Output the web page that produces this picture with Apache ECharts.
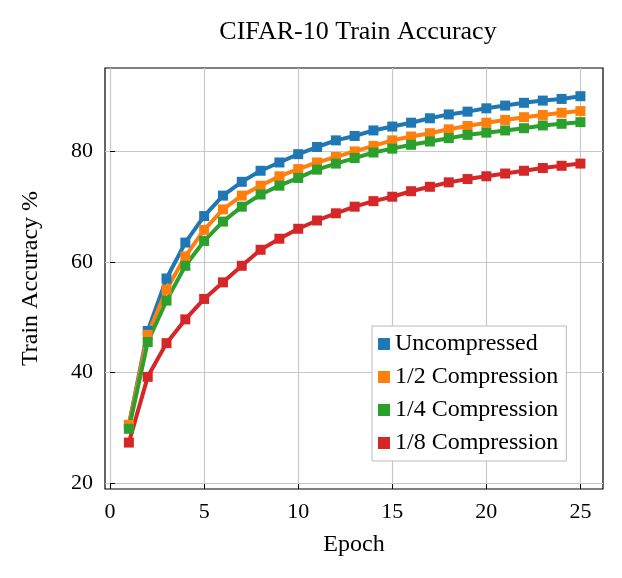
<!DOCTYPE html>
<html><head><meta charset="utf-8">
<script src="https://cdn.jsdelivr.net/npm/echarts@6/dist/echarts.min.js"></script>
<style>html,body{margin:0;background:#fff}#c{width:622px;height:578px}</style>
</head><body><div id="c"></div>
<script>
const epochs=[1,2,3,4,5,6,7,8,9,10,11,12,13,14,15,16,17,18,19,20,21,22,23,24,25];
const uncompressed=[30.5,47.5,57,63.5,68.3,72,74.5,76.5,78,79.5,80.8,82,82.8,83.8,84.5,85.2,86,86.7,87.2,87.8,88.3,88.8,89.2,89.5,90];
const half=[30.5,46.8,55,61,65.8,69.5,72,73.8,75.5,76.8,78,79,80,81,82,82.7,83.3,84,84.6,85.2,85.7,86.2,86.6,87,87.3];
const quarter=[29.8,45.5,53,59.3,63.8,67.3,70,72.2,73.8,75.2,76.7,77.8,78.8,79.8,80.5,81.2,81.8,82.4,83,83.4,83.8,84.2,84.7,85,85.3];
const eighth=[27.3,39.2,45.3,49.6,53.3,56.3,59.3,62.2,64.2,66,67.5,68.8,70,71,71.8,72.8,73.6,74.4,75,75.5,76,76.5,77,77.4,77.8];
const xTicks=[0,5,10,15,20,25];
const yTicks=[20,40,60,80];
const names=['Uncompressed','1/2 Compression','1/4 Compression','1/8 Compression'];
const colors=['#1f77b4','#ff7f0e','#2ca02c','#d62728'];
const font='"Liberation Serif","DejaVu Serif",serif';
const mk=(n,d,c)=>({name:n,type:'line',data:epochs.map((e,i)=>[e,d[i]]),color:c,symbol:'rect',symbolSize:10,lineStyle:{width:4,color:c},itemStyle:{color:c}});
const ch=echarts.init(document.getElementById('c'));
ch.setOption({
 animation:false,
 textStyle:{fontFamily:font},
 title:{text:'CIFAR-10 Train Accuracy',left:353,textAlign:'center',top:14,textStyle:{fontFamily:font,fontSize:26,fontWeight:'normal',color:'#000'}},
 grid:{left:105,right:19,top:68,bottom:89,show:true,borderColor:'#000',borderWidth:1.2},
 legend:{orient:'vertical',left:372,top:326,itemWidth:12,itemHeight:12,itemGap:9,backgroundColor:'#fff',borderColor:'#bbb',borderWidth:1,padding:[6,8,6,6],icon:'rect',textStyle:{fontFamily:font,fontSize:24,color:'#000'},data:names},
 xAxis:{type:'value',min:-0.27,max:26.2,name:'Epoch',nameLocation:'middle',nameGap:44,nameTextStyle:{fontFamily:font,fontSize:24,color:'#000'},
  axisLine:{show:false},axisTick:{show:true,inside:true,customValues:xTicks,lineStyle:{color:'#000'}},
  axisLabel:{customValues:xTicks,fontFamily:font,fontSize:22,color:'#000',margin:12},
  splitLine:{show:true,lineStyle:{color:'#c8c8c8',width:1.2}}},
 yAxis:{type:'value',min:18.9,max:95.1,name:'Train Accuracy %',nameLocation:'middle',nameGap:62,nameTextStyle:{fontFamily:font,fontSize:24,color:'#000'},
  axisLine:{show:false},axisTick:{show:true,inside:true,customValues:yTicks,lineStyle:{color:'#000'}},
  axisLabel:{customValues:yTicks,fontFamily:font,fontSize:22,color:'#000',margin:12},
  splitLine:{show:true,lineStyle:{color:'#c8c8c8',width:1.2}}},
 series:[mk(names[0],uncompressed,colors[0]),mk(names[1],half,colors[1]),mk(names[2],quarter,colors[2]),mk(names[3],eighth,colors[3])]
});
</script></body></html>
